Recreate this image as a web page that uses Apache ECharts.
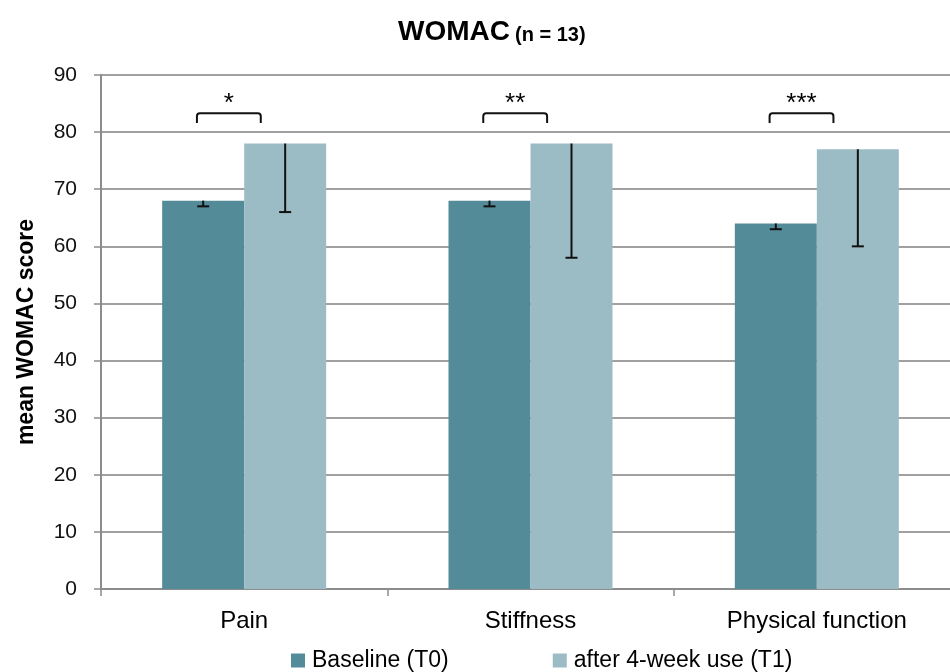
<!DOCTYPE html>
<html>
<head>
<meta charset="utf-8">
<script src="https://cdn.jsdelivr.net/npm/echarts@6/dist/echarts.min.js"></script>
<style>html,body{margin:0;padding:0;background:#fff}#c{width:950px;height:672px}</style>
</head>
<body>
<div id="c"></div>
<script>
var categories = ['Pain', 'Stiffness', 'Physical function'];
var seriesNames = ['Baseline (T0)', 'after 4-week use (T1)'];
var baseline = [68, 68, 64];
var after = [78, 78, 77];
var baselineLow = [67, 67, 63];
var afterLow = [66, 58, 60];
var sigLabels = ['*', '**', '***'];
var sigTop = [83.3, 83.3, 83.3];
var sigBottom = [81.6, 81.6, 81.6];
var sigText = [85.0, 85.0, 85.0];
var yTicks = [0, 10, 20, 30, 40, 50, 60, 70, 80, 90];

var FONT = 'Liberation Sans, Arial, sans-serif';
var BAR_FRAC = 0.2864;
var colors = ['#548b98', '#9cbcc5'];

function errData(vals, lows) {
  return vals.map(function (v, i) { return [i, v, lows[i]]; });
}

function errRender(sign) {
  return function (params, api) {
    var band = api.size([1, 0])[0];
    var c = api.coord([api.value(0), api.value(1)]);
    var lo = api.coord([api.value(0), api.value(2)]);
    var x = c[0] + sign * band * BAR_FRAC / 2;
    var cap = 6;
    var st = { stroke: '#111', lineWidth: 2 };
    return {
      type: 'group',
      children: [
        { type: 'line', shape: { x1: x, y1: c[1], x2: x, y2: lo[1] }, style: st },
        { type: 'line', shape: { x1: x - cap, y1: lo[1], x2: x + cap, y2: lo[1] }, style: st }
      ]
    };
  };
}

var sigData = categories.map(function (c, i) { return [i, sigTop[i], sigBottom[i], sigText[i]]; });

var chart = echarts.init(document.getElementById('c'));
chart.setOption({
  animation: false,
  textStyle: { fontFamily: FONT },
  title: {
    text: '{a|WOMAC} {b|(n = 13)}',
    left: 398,
    top: 18,
    padding: 0,
    textStyle: {
      rich: {
        a: { fontFamily: FONT, fontWeight: 'bold', fontSize: 28, color: '#000' },
        b: { fontFamily: FONT, fontWeight: 'bold', fontSize: 20, color: '#000', padding: [6, 0, 0, 0] }
      }
    }
  },
  legend: {
    data: seriesNames,
    left: 291,
    bottom: 0,
    padding: 0,
    itemWidth: 14,
    itemHeight: 14,
    itemGap: 104,
    icon: 'rect',
    textStyle: { fontFamily: FONT, fontSize: 23, color: '#000', padding: [0, 0, 0, 2] }
  },
  grid: { left: 101, top: 75, bottom: 83, right: -10, outerBoundsMode: 'none' },
  xAxis: {
    type: 'category',
    data: categories,
    axisLine: { lineStyle: { color: '#8c8c8c', width: 2 } },
    axisTick: { show: true, length: 7, lineStyle: { color: '#8c8c8c', width: 1.5 } },
    axisLabel: { fontFamily: FONT, fontSize: 24, color: '#000', margin: 20 }
  },
  yAxis: {
    type: 'value',
    min: 0, max: 90, interval: 10,
    name: 'mean WOMAC score',
    nameLocation: 'middle',
    nameGap: 63,
    nameTextStyle: { fontFamily: FONT, fontWeight: 'bold', fontSize: 23, color: '#000' },
    axisLine: { show: true, lineStyle: { color: '#8c8c8c', width: 2 } },
    axisTick: { show: true, length: 7, lineStyle: { color: '#8c8c8c', width: 1.5 } },
    splitLine: { lineStyle: { color: '#a0a0a0', width: 2 } },
    axisLabel: {
      fontFamily: FONT, fontSize: 21, color: '#111', margin: 24,
      formatter: function (v) { return yTicks.indexOf(v) >= 0 ? String(v) : ''; }
    }
  },
  series: [
    {
      name: seriesNames[0], type: 'bar', data: baseline,
      barWidth: (BAR_FRAC * 100) + '%', barGap: '0%',
      itemStyle: { color: colors[0] }, z: 2
    },
    {
      name: seriesNames[1], type: 'bar', data: after,
      barWidth: (BAR_FRAC * 100) + '%', barGap: '0%',
      itemStyle: { color: colors[1] }, z: 2
    },
    {
      type: 'custom', data: errData(baseline, baselineLow),
      encode: { x: 0, y: [1, 2] }, renderItem: errRender(-1), z: 5, silent: true
    },
    {
      type: 'custom', data: errData(after, afterLow),
      encode: { x: 0, y: [1, 2] }, renderItem: errRender(1), z: 5, silent: true
    },
    {
      type: 'custom', data: sigData, encode: { x: 0, y: [1, 2, 3] }, z: 5, silent: true,
      renderItem: function (params, api) {
        var band = api.size([1, 0])[0];
        var i = api.value(0);
        var top = api.coord([i, api.value(1)]);
        var bot = api.coord([i, api.value(2)]);
        var txt = api.coord([i, api.value(3)]);
        var x1 = top[0] - 0.165 * band;
        var x2 = top[0] + 0.058 * band;
        var r = 3;
        var path = 'M' + x1 + ',' + bot[1] + ' L' + x1 + ',' + (top[1] + r) +
          ' Q' + x1 + ',' + top[1] + ' ' + (x1 + r) + ',' + top[1] +
          ' L' + (x2 - r) + ',' + top[1] +
          ' Q' + x2 + ',' + top[1] + ' ' + x2 + ',' + (top[1] + r) +
          ' L' + x2 + ',' + bot[1];
        return {
          type: 'group',
          children: [
            { type: 'path', shape: { pathData: path }, style: { stroke: '#111', lineWidth: 2, fill: null } },
            {
              type: 'text',
              style: {
                text: sigLabels[params.dataIndex], x: (x1 + x2) / 2, y: txt[1],
                align: 'center', verticalAlign: 'middle',
                font: '26px ' + FONT, fill: '#000'
              }
            }
          ]
        };
      }
    }
  ]
});
</script>
</body>
</html>
